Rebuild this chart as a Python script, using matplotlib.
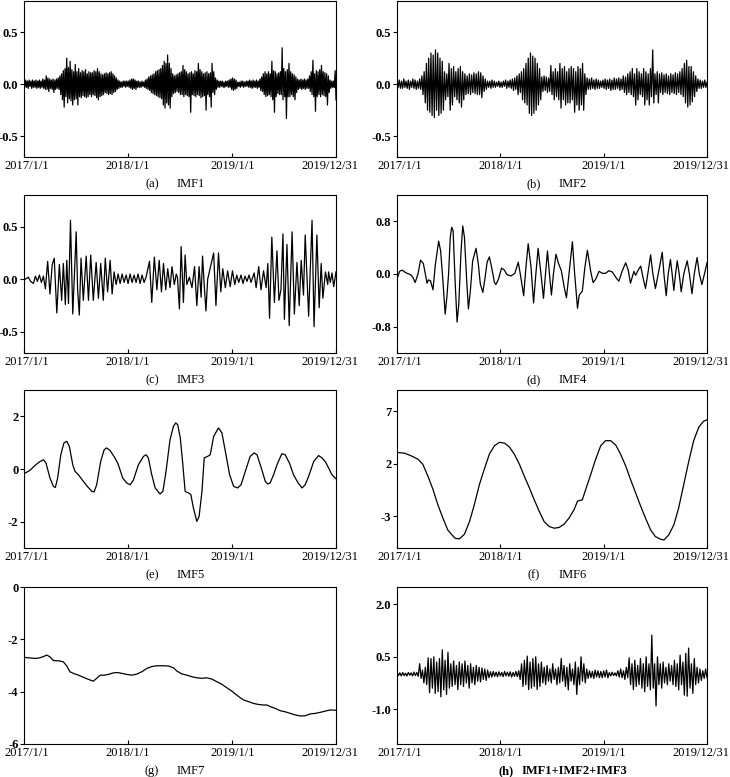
import numpy as np
import matplotlib
matplotlib.use("Agg")
import matplotlib.pyplot as plt
from matplotlib.transforms import ScaledTranslation

plt.rcParams['font.family'] = ['Liberation Serif', 'DejaVu Serif']
plt.rcParams['font.size'] = 9
plt.rcParams['axes.unicode_minus'] = False

START = np.datetime64('2017-01-01')
END = np.datetime64('2019-12-31')
x_tick_dates = ['2017-01-01', '2018-01-01', '2019-01-01', '2019-12-31']
x_tick_labels = ['2017/1/1', '2018/1/1', '2019/1/1', '2019/12/31']

# ---- dense IMF1 (about 3-day samples) ----
imf1 = [0.03, -0.03, 0.04, -0.03, 0.03, -0.04, 0.04, -0.02, 0.03, -0.04, 0.04, -0.03, 0.03, -0.03, 0.04, -0.04, 0.03, -0.03, 0.04, -0.04,
        0.03, -0.03, 0.05, -0.04, 0.04, -0.05, 0.08, -0.05, 0.06, -0.07, 0.05, -0.04, 0.04, -0.05, 0.05, -0.08, 0.04, -0.05, 0.05, -0.04,
        0.06, -0.05, 0.08, -0.10, 0.10, -0.15, 0.13, -0.22, 0.15, -0.12, 0.25, -0.18, 0.16, -0.14, 0.22, -0.16, 0.14, -0.20, 0.12, -0.15,
        0.19, -0.14, 0.12, -0.20, 0.15, -0.12, 0.11, -0.13, 0.13, -0.11, 0.12, -0.12, 0.14, -0.13, 0.10, -0.12, 0.12, -0.10, 0.11, -0.12,
        0.11, -0.10, 0.13, -0.11, 0.12, -0.13, 0.15, -0.15, 0.12, -0.12, 0.10, -0.11, 0.09, -0.10, 0.10, -0.08, 0.11, -0.09, 0.10, -0.10,
        0.11, -0.09, 0.12, -0.10, 0.10, -0.08, 0.08, -0.07, 0.06, -0.05, 0.04, -0.04, 0.03, -0.03, 0.02, -0.03, 0.03, -0.02, 0.03, -0.03,
        0.03, -0.02, 0.03, -0.03, 0.04, -0.04, 0.05, -0.05, 0.05, -0.04, 0.04, -0.05, 0.03, -0.03, 0.03, -0.03, 0.02, -0.03, 0.03, -0.02,
        0.02, -0.03, 0.04, -0.04, 0.05, -0.05, 0.07, -0.06, 0.08, -0.08, 0.09, -0.09, 0.10, -0.10, 0.12, -0.11, 0.13, -0.12, 0.14, -0.13,
        0.15, -0.14, 0.18, -0.20, 0.22, -0.23, 0.20, -0.18, 0.28, -0.20, 0.20, -0.23, 0.15, -0.12, 0.10, -0.09, 0.08, -0.08, 0.09, -0.07,
        0.10, -0.08, 0.11, -0.10, 0.12, -0.10, 0.18, -0.12, 0.14, -0.10, 0.12, -0.11, 0.10, -0.12, 0.11, -0.27, 0.12, -0.10, 0.10, -0.11,
        0.13, -0.12, 0.12, -0.10, 0.20, -0.11, 0.14, -0.13, 0.12, -0.12, 0.10, -0.11, 0.11, -0.25, 0.12, -0.10, 0.10, -0.12, 0.11, -0.22,
        0.20, -0.08, 0.12, -0.10, 0.06, -0.05, 0.04, -0.03, 0.03, -0.03, 0.03, -0.02, 0.03, -0.03, 0.02, -0.03, 0.03, -0.02, 0.03, -0.03,
        0.04, -0.03, 0.05, -0.05, 0.06, -0.06, 0.05, -0.05, 0.04, -0.04, 0.02, -0.02, 0.02, -0.03, 0.03, -0.02, 0.03, -0.03, 0.02, -0.02,
        0.03, -0.02, 0.03, -0.03, 0.04, -0.03, 0.03, -0.04, 0.04, -0.03, 0.03, -0.03, 0.04, -0.04, 0.03, -0.03, 0.05, -0.06, 0.07, -0.07,
        0.10, -0.10, 0.12, -0.12, 0.10, -0.11, 0.12, -0.10, 0.10, -0.12, 0.22, -0.15, 0.13, -0.27, 0.12, -0.12, 0.10, -0.09, 0.11, -0.10,
        0.12, -0.10, 0.35, -0.15, 0.15, -0.12, 0.12, -0.33, 0.14, -0.12, 0.20, -0.12, 0.12, -0.10, 0.10, -0.12, 0.09, -0.15, 0.07, -0.08,
        0.05, -0.05, 0.04, -0.04, 0.05, -0.05, 0.04, -0.04, 0.05, -0.05, 0.04, -0.04, 0.05, -0.04, 0.08, -0.07, 0.12, -0.10, 0.23, -0.12,
        0.10, -0.26, 0.13, -0.12, 0.12, -0.10, 0.14, -0.12, 0.18, -0.10, 0.12, -0.11, 0.11, -0.12, 0.10, -0.20, 0.08, -0.08, 0.04, -0.04,
        0.03, -0.03, 0.03, -0.03, 0.13, -0.15]

# ---- dense IMF2 (about 4-day samples) ----
imf2 = [0.06, -0.03, 0.04, -0.04, 0.03, -0.04, 0.05, -0.03, 0.03, -0.04, 0.04, -0.05, 0.03, -0.03, 0.05, -0.04, 0.04, -0.05, 0.03, -0.04,
        0.05, -0.05, 0.08, -0.10, 0.12, -0.18, 0.20, -0.25, 0.25, -0.27, 0.30, -0.30, 0.28, -0.32, 0.33, -0.25, 0.30, -0.30, 0.25, -0.28,
        0.22, -0.25, 0.12, -0.15, 0.10, -0.12, 0.20, -0.25, 0.15, -0.20, 0.17, -0.12, 0.12, -0.15, 0.15, -0.18, 0.17, -0.22, 0.12, -0.15,
        0.10, -0.10, 0.08, -0.09, 0.10, -0.10, 0.09, -0.08, 0.11, -0.09, 0.10, -0.10, 0.12, -0.10, 0.11, -0.13, 0.08, -0.07, 0.05, -0.05,
        0.03, -0.03, 0.03, -0.04, 0.04, -0.03, 0.03, -0.03, 0.02, -0.02, 0.03, -0.03, 0.02, -0.03, 0.03, -0.02, 0.04, -0.04, 0.03, -0.03,
        0.04, -0.04, 0.05, -0.06, 0.06, -0.05, 0.08, -0.10, 0.10, -0.08, 0.12, -0.15, 0.15, -0.18, 0.20, -0.20, 0.25, -0.28, 0.30, -0.30,
        0.27, -0.28, 0.25, -0.25, 0.20, -0.20, 0.15, -0.15, 0.07, -0.07, 0.08, -0.06, 0.07, -0.08, 0.06, -0.07, 0.18, -0.10, 0.12, -0.15,
        0.15, -0.12, 0.12, -0.15, 0.20, -0.23, 0.15, -0.15, 0.17, -0.20, 0.12, -0.18, 0.15, -0.18, 0.17, -0.15, 0.15, -0.27, 0.12, -0.20,
        0.17, -0.25, 0.15, -0.20, 0.20, -0.25, 0.10, -0.10, 0.06, -0.05, 0.05, -0.05, 0.06, -0.04, 0.04, -0.05, 0.05, -0.04, 0.04, -0.04,
        0.03, -0.03, 0.04, -0.04, 0.05, -0.05, 0.04, -0.04, 0.05, -0.06, 0.04, -0.05, 0.06, -0.05, 0.05, -0.04, 0.06, -0.06, 0.05, -0.05,
        0.08, -0.08, 0.07, -0.10, 0.10, -0.08, 0.12, -0.10, 0.15, -0.12, 0.10, -0.20, 0.15, -0.15, 0.12, -0.10, 0.10, -0.12, 0.15, -0.20,
        0.12, -0.15, 0.10, -0.20, 0.15, -0.12, 0.33, -0.18, 0.10, -0.10, 0.12, -0.18, 0.10, -0.08, 0.11, -0.10, 0.09, -0.08, 0.10, -0.09,
        0.08, -0.10, 0.10, -0.08, 0.09, -0.09, 0.11, -0.10, 0.10, -0.08, 0.12, -0.10, 0.15, -0.12, 0.20, -0.18, 0.23, -0.22, 0.17, -0.20,
        0.17, -0.17, 0.12, -0.12, 0.08, -0.07, 0.05, -0.04, 0.04, -0.04, 0.03, -0.03, 0.04, -0.03, 0.02]

# ---- IMF3 (day, value) ----
imf3_day = [4, 15, 23, 33, 40, 47, 54, 61, 68, 75, 83, 91, 99, 106, 115, 124, 132, 138, 145, 150,
            156, 163, 171, 183, 188, 194, 200, 208, 218, 226, 234, 243, 253, 261, 269, 278, 285, 293, 302, 309,
            316, 323, 330, 337, 344, 351, 358, 365, 372, 379, 386, 393, 400, 407, 414, 421, 428, 440, 448, 457,
            466, 474, 482, 489, 497, 504, 512, 519, 527, 534, 538, 545, 551, 559, 565, 571, 580, 589, 598, 606,
            614, 621, 626, 633, 638, 644, 665, 673, 682, 690, 697, 706, 714, 723, 731, 739, 746, 753, 761, 768,
            775, 782, 789, 796, 807, 814, 823, 831, 840, 849, 855, 861, 869, 878, 887, 894, 901, 908, 913, 922,
            930, 940, 948, 957, 965, 972, 980, 986, 998, 1010, 1017, 1027, 1035, 1042, 1048, 1057, 1065, 1068, 1074, 1080,
            1086, 1094]
imf3_val = [0.0, 0.02, -0.02, -0.04, 0.03, -0.02, 0.04, -0.03, 0.03, -0.09, 0.17, -0.14, 0.14, 0.20, -0.32, 0.14, -0.20, 0.15, -0.24, 0.18,
            -0.23, 0.56, -0.33, 0.45, -0.10, -0.34, 0.20, -0.20, 0.22, -0.20, 0.23, -0.20, 0.16, -0.18, 0.15, -0.20, 0.20, -0.12, 0.18, -0.14,
            0.07, -0.05, 0.05, -0.04, 0.05, -0.03, 0.04, -0.04, 0.05, -0.03, 0.04, -0.03, 0.05, -0.04, 0.04, -0.03, 0.02, 0.17, -0.22, 0.21,
            -0.10, 0.18, -0.12, 0.15, -0.10, 0.10, -0.08, 0.12, -0.05, 0.05, 0.02, -0.28, 0.31, -0.22, 0.23, -0.05, 0.02, -0.08, 0.12, -0.25,
            0.12, -0.17, 0.22, -0.10, -0.30, 0.0, 0.25, -0.25, 0.25, -0.12, 0.10, -0.08, 0.08, -0.07, 0.08, -0.05, 0.04, -0.03, 0.04, -0.04,
            0.03, -0.02, 0.04, -0.03, 0.06, -0.08, 0.12, -0.10, 0.08, -0.08, 0.15, -0.37, 0.40, -0.22, 0.27, -0.20, -0.10, 0.43, -0.38, 0.33,
            -0.44, 0.45, -0.33, 0.16, -0.25, 0.18, -0.15, 0.42, -0.35, 0.56, -0.45, 0.42, -0.27, 0.15, -0.18, 0.07, -0.05, 0.07, -0.03, 0.06,
            -0.07, 0.07]

# ---- IMF4 (day, value) ----
imf4_day = [0, 9, 18, 27, 36, 48, 56, 64, 74, 83, 93, 100, 106, 111, 118, 127, 135, 147, 154, 162,
            170, 176, 182, 188, 193, 198, 205, 212, 218, 226, 232, 238, 246, 252, 259, 267, 279, 287, 294, 303,
            311, 318, 326, 334, 344, 349, 358, 369, 379, 388, 402, 416, 428, 437, 447, 455, 463, 473, 482, 490,
            498, 508, 517, 524, 531, 538, 545, 552, 561, 570, 580, 590, 598, 607, 619, 627, 637, 643, 654, 663,
            672, 684, 692, 701, 713, 725, 736, 748, 760, 772, 783, 795, 807, 816, 824, 836, 842, 850, 860, 868,
            877, 885, 895, 903, 912, 924, 936, 942, 950, 957, 965, 971, 977, 983, 989, 996, 1003, 1012, 1024, 1032,
            1041, 1049, 1059, 1067, 1076, 1085, 1094]
imf4_val = [-0.08, 0.04, 0.06, 0.03, 0.01, -0.01, -0.05, -0.13, 0.0, 0.21, 0.16, 0.0, -0.14, -0.09, -0.10, -0.24, 0.13, 0.50, 0.35, -0.10,
            -0.61, -0.35, 0.0, 0.56, 0.71, 0.66, -0.10, -0.73, -0.46, 0.35, 0.73, 0.56, -0.10, -0.53, -0.25, 0.20, 0.39, 0.15, -0.15, -0.28,
            -0.05, 0.18, 0.26, 0.10, -0.13, -0.16, -0.08, 0.09, 0.06, -0.01, -0.03, 0.01, 0.18, -0.05, -0.33, 0.10, 0.46, 0.10, -0.44, 0.0,
            0.39, 0.0, -0.37, 0.0, 0.35, 0.0, -0.32, 0.0, 0.30, 0.16, 0.05, -0.20, -0.36, 0.0, 0.49, 0.0, -0.52, -0.32, -0.26, 0.10,
            0.36, 0.03, -0.13, -0.08, 0.04, 0.01, 0.01, 0.05, 0.03, -0.05, -0.11, 0.05, 0.17, 0.06, -0.14, 0.04, -0.02, 0.05, 0.12, -0.05,
            -0.22, 0.0, 0.29, 0.0, -0.22, 0.05, 0.33, 0.0, -0.33, 0.0, 0.22, 0.0, -0.25, 0.0, 0.20, 0.0, -0.27, 0.0, 0.20, 0.0,
            -0.30, 0.0, 0.25, 0.0, -0.16, 0.0, 0.17]

# ---- IMF5 (day, value) ----
imf5_day = [0, 21, 39, 54, 68, 77, 91, 103, 110, 118, 129, 140, 150, 159, 171, 179, 191, 206, 222, 238,
            246, 255, 269, 281, 290, 302, 319, 331, 346, 360, 372, 384, 401, 419, 428, 436, 448, 460, 477, 487,
            498, 512, 524, 532, 539, 548, 557, 565, 577, 585, 594, 606, 614, 624, 632, 644, 653, 665, 682, 694,
            706, 721, 735, 749, 761, 776, 793, 807, 817, 832, 846, 855, 863, 875, 887, 904, 916, 931, 945, 961,
            975, 986, 998, 1016, 1033, 1045, 1057, 1068, 1080, 1094]
imf5_val = [-0.18, -0.05, 0.14, 0.27, 0.35, 0.23, -0.34, -0.66, -0.70, -0.34, 0.54, 0.99, 1.05, 0.86, 0.16, -0.09, -0.22, -0.44, -0.66, -0.85,
            -0.87, -0.59, 0.29, 0.73, 0.80, 0.70, 0.42, 0.16, -0.34, -0.53, -0.60, -0.41, 0.16, 0.48, 0.54, 0.42, -0.22, -0.72, -0.95, -0.85,
            -0.09, 1.11, 1.62, 1.75, 1.68, 1.18, 0.16, -0.85, -0.91, -0.97, -1.48, -1.99, -1.80, -0.85, 0.42, 0.48, 0.54, 1.24, 1.56, 1.37,
            0.67, -0.22, -0.66, -0.72, -0.60, -0.09, 0.48, 0.61, 0.54, 0.04, -0.47, -0.57, -0.53, -0.22, 0.16, 0.58, 0.54, 0.22, -0.22, -0.53,
            -0.72, -0.60, -0.28, 0.29, 0.51, 0.42, 0.27, 0.04, -0.22, -0.37]

# ---- IMF6 (day, value) ----
imf6_day = [0, 27, 50, 74, 91, 109, 127, 144, 162, 179, 191, 205, 220, 238, 256, 273, 291, 308, 326, 344,
            361, 379, 396, 414, 432, 449, 467, 484, 502, 519, 537, 555, 572, 590, 607, 625, 637, 643, 654, 666,
            684, 701, 719, 736, 754, 772, 789, 807, 824, 842, 860, 877, 895, 912, 930, 942, 959, 977, 994, 1012,
            1030, 1047, 1065, 1082, 1094]
imf6_val = [3.07, 3.0, 2.75, 2.43, 1.95, 0.83, -0.44, -1.88, -3.16, -4.28, -4.66, -5.08, -5.14, -4.69, -3.48, -1.88, 0.04, 1.48, 2.91, 3.71,
            4.03, 3.96, 3.61, 2.91, 1.95, 0.83, -0.28, -1.40, -2.52, -3.48, -3.96, -4.12, -4.05, -3.73, -3.16, -2.36, -1.56, -1.50, -1.43, -0.44,
            1.00, 2.43, 3.71, 4.19, 4.19, 3.77, 2.91, 1.79, 0.51, -0.76, -2.04, -3.16, -4.28, -4.92, -5.17, -5.24, -4.76, -3.80, -2.20, 0.04,
            2.27, 4.19, 5.47, 6.04, 6.17]

# ---- IMF7 (day, value) ----
imf7_day = [0, 21, 39, 54, 68, 80, 91, 103, 121, 138, 150, 161, 173, 191, 208, 226, 243, 255, 267, 281,
            296, 314, 328, 343, 360, 378, 395, 413, 431, 448, 466, 489, 507, 524, 536, 553, 571, 589, 606, 624,
            641, 659, 676, 694, 711, 729, 746, 758, 770, 787, 805, 823, 840, 852, 863, 881, 899, 916, 934, 951,
            969, 986, 1004, 1021, 1039, 1057, 1074, 1094]
imf7_val = [-2.69, -2.71, -2.73, -2.71, -2.66, -2.60, -2.67, -2.81, -2.82, -2.86, -3.02, -3.24, -3.30, -3.37, -3.45, -3.53, -3.60, -3.49, -3.37, -3.37,
            -3.34, -3.28, -3.27, -3.30, -3.34, -3.37, -3.33, -3.24, -3.11, -3.04, -3.01, -3.01, -3.02, -3.09, -3.21, -3.32, -3.37, -3.43, -3.47, -3.49,
            -3.47, -3.52, -3.62, -3.72, -3.85, -3.98, -4.13, -4.23, -4.32, -4.38, -4.45, -4.49, -4.51, -4.51, -4.57, -4.64, -4.73, -4.77, -4.83, -4.89,
            -4.93, -4.92, -4.85, -4.83, -4.79, -4.74, -4.70, -4.71]

# ---- IMF1+IMF2+IMF3 (about 5-day samples) ----
imf123 = [0.05, -0.04, 0.04, -0.05, 0.05, -0.04, 0.03, -0.05, 0.05, -0.03,
          0.04, -0.05, 0.06, -0.04, 0.05, -0.06, 0.30, -0.12, 0.12, -0.25,
          0.20, -0.30, 0.47, -0.53, 0.45, -0.40, 0.50, -0.55, 0.35, -0.50,
          0.45, -0.65, 0.70, -0.45, 0.40, -0.58, 0.63, -0.40, 0.30, -0.35,
          0.38, -0.30, 0.25, -0.44, 0.35, -0.30, 0.30, -0.35, 0.38, -0.25,
          0.25, -0.40, 0.30, -0.25, 0.20, -0.30, 0.25, -0.20, 0.20, -0.22,
          0.18, -0.15, 0.15, -0.18, 0.12, -0.10, 0.07, -0.08, 0.08, -0.06,
          0.06, -0.07, 0.07, -0.05, 0.05, -0.07, 0.08, -0.05, 0.06, -0.06,
          0.07, -0.08, 0.05, -0.06, 0.08, -0.07, 0.10, -0.15, 0.30, -0.35,
          0.40, -0.30, 0.52, -0.44, 0.35, -0.40, 0.45, -0.35, 0.50, -0.44,
          0.30, -0.35, 0.35, -0.25, 0.20, -0.30, 0.25, -0.20, 0.15, -0.25,
          0.30, -0.15, 0.15, -0.30, 0.20, -0.25, 0.45, -0.20, 0.25, -0.35,
          0.20, -0.45, 0.30, -0.20, 0.15, -0.30, 0.35, -0.58, 0.20, -0.30,
          0.50, -0.20, 0.30, -0.25, 0.15, -0.12, 0.10, -0.10, 0.08, -0.12,
          0.12, -0.08, 0.10, -0.10, 0.08, -0.10, 0.10, -0.08, 0.12, -0.10,
          0.05, -0.05, 0.06, -0.04, 0.04, -0.05, 0.10, -0.08, 0.15, -0.10,
          0.10, -0.15, 0.20, -0.10, 0.47, -0.30, 0.30, -0.44, 0.40, -0.35,
          0.25, -0.30, 0.45, -0.40, 0.30, -0.50, 0.50, -0.35, 0.30, -0.45,
          1.12, -0.40, 0.30, -0.91, 0.50, -0.30, 0.30, -0.40, 0.35, -0.25,
          0.20, -0.30, 0.30, -0.20, 0.25, -0.30, 0.40, -0.35, 0.30, -0.45,
          0.55, -0.30, 0.35, -0.60, 0.60, -0.63, 0.75, -0.40, 0.30, -0.55,
          0.45, -0.30, 0.20, -0.25, 0.15, -0.18, 0.10, -0.12, 0.15, -0.10]

TOTAL_DAYS = int((END - START).astype(int))


def even_days(vals):
    return np.linspace(0, TOTAL_DAYS, len(vals))


panels = [
    (even_days(imf1), imf1, (-0.7, 0.8), [-0.5, 0.0, 0.5], ['-0.5', '0.0', '0.5'], '(a)', 'IMF1', False),
    (even_days(imf2), imf2, (-0.7, 0.8), [-0.5, 0.0, 0.5], ['-0.5', '0.0', '0.5'], '(b)', 'IMF2', False),
    (imf3_day, imf3_val, (-0.7, 0.8), [-0.5, 0.0, 0.5], ['-0.5', '0.0', '0.5'], '(c)', 'IMF3', False),
    (imf4_day, imf4_val, (-1.2, 1.2), [-0.8, 0.0, 0.8], ['-0.8', '0.0', '0.8'], '(d)', 'IMF4', False),
    (imf5_day, imf5_val, (-3, 3), [-2, 0, 2], ['-2', '0', '2'], '(e)', 'IMF5', False),
    (imf6_day, imf6_val, (-6, 9), [-3, 2, 7], ['-3', '2', '7'], '(f)', 'IMF6', False),
    (imf7_day, imf7_val, (-6, 0), [-6, -4, -2, 0], ['-6', '-4', '-2', '0'], '(g)', 'IMF7', False),
    (even_days(imf123), imf123, (-2.0, 2.5), [-1.0, 0.5, 2.0], ['-1.0', '0.5', '2.0'], '(h)', 'IMF1+IMF2+IMF3', True),
]

W, H = 730, 777
fig = plt.figure(figsize=(W / 100, H / 100), dpi=100)

cols = [(24, 336), (397, 707)]
rows = [(1, 157), (195, 353), (390, 548), (587, 744)]

xt = [int((np.datetime64(d) - START).astype(int)) for d in x_tick_dates]

for i, (xs, ys, ylim, yt, ytl, lab, name, bold) in enumerate(panels):
    r, c = divmod(i, 2)
    l, rr = cols[c]
    t, b = rows[r]
    ax = fig.add_axes([l / W, 1 - b / H, (rr - l) / W, (b - t) / H])
    ax.plot(xs, ys, color='black', lw=0.9)
    ax.set_xlim(0, TOTAL_DAYS)
    ax.set_ylim(*ylim)
    ax.set_xticks(xt)
    ax.set_xticklabels(x_tick_labels)
    ax.set_yticks(yt)
    ax.set_yticklabels(ytl, fontweight='bold')
    ax.tick_params(axis='x', direction='in', length=3, pad=2, labelsize=9, width=0.8)
    ax.tick_params(axis='y', direction='out', length=3, pad=1, labelsize=9, width=0.8)
    for s in ax.spines.values():
        s.set_linewidth(0.8)
    xtl = ax.get_xticklabels()
    xtl[0].set_transform(xtl[0].get_transform() + ScaledTranslation(3 / 100, 0, fig.dpi_scale_trans))
    xtl[-1].set_transform(xtl[-1].get_transform() + ScaledTranslation(-6 / 100, 0, fig.dpi_scale_trans))
    cy = 1 - (b + 27) / H
    if c == 0:
        lx, nx = 152, 177
    else:
        lx, nx = 534, 559
    if bold:
        lx, nx = 506, 522
    fw = 'bold' if bold else 'normal'
    fig.text(lx / W, cy, lab, ha='center', va='center', fontsize=9, fontweight=fw)
    fig.text(nx / W, cy, name, ha='left', va='center', fontsize=9, fontweight=fw)

fig.savefig('out.png', dpi=100)
